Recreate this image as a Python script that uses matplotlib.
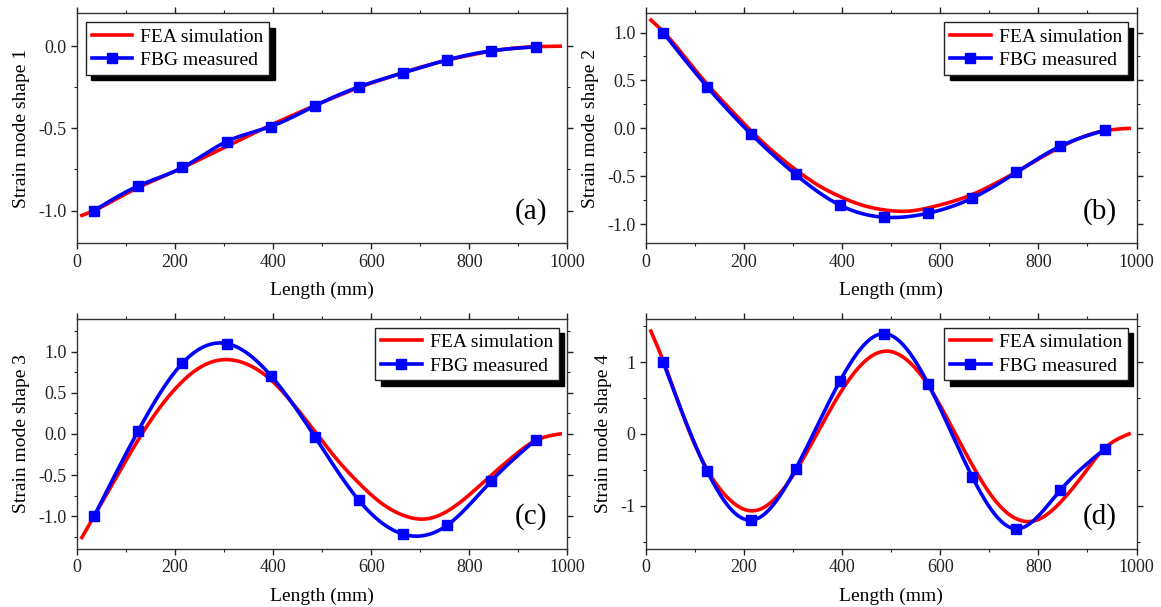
import numpy as np
import matplotlib
matplotlib.use("Agg")
import matplotlib.pyplot as plt
from matplotlib.ticker import MultipleLocator

plt.rcParams['font.family'] = ['Liberation Serif', 'DejaVu Serif']

# ---------------- data ----------------
fbg_x = [35, 125, 215, 305, 395, 485, 575, 665, 755, 845, 935]
fbg_1 = [-1.0, -0.85, -0.738, -0.58, -0.489, -0.363, -0.247, -0.162, -0.083, -0.028, -0.004]
fbg_2 = [1.0, 0.432, -0.063, -0.481, -0.80, -0.927, -0.885, -0.728, -0.46, -0.185, -0.02]
fbg_3 = [-1.0, 0.04, 0.862, 1.10, 0.711, -0.033, -0.81, -1.22, -1.11, -0.57, -0.073]
fbg_4 = [1.0, -0.52, -1.2, -0.488, 0.73, 1.395, 0.70, -0.595, -1.32, -0.78, -0.21]

fea_x = [10, 35, 80, 125, 170, 215, 260, 305, 350, 395, 440, 485, 530, 575,
         620, 665, 710, 755, 800, 845, 890, 935, 985]
fea_1 = [-1.03, -1.0, -0.93, -0.86, -0.80, -0.74, -0.675, -0.61, -0.545, -0.48,
         -0.42, -0.36, -0.305, -0.25, -0.205, -0.16, -0.12, -0.085, -0.055,
         -0.03, -0.012, -0.003, 0.0]
fea_2 = [1.13, 1.01, 0.74, 0.46, 0.21, -0.03, -0.245, -0.43, -0.59, -0.71,
         -0.80, -0.85, -0.865, -0.83, -0.77, -0.69, -0.58, -0.455, -0.32,
         -0.195, -0.09, -0.025, 0.0]
fea_3 = [-1.26, -1.0, -0.53, -0.07, 0.33, 0.64, 0.84, 0.905, 0.84, 0.66, 0.37,
         0.03, -0.31, -0.60, -0.84, -0.99, -1.035, -0.94, -0.74, -0.50, -0.27,
         -0.08, 0.0]
fea_4 = [1.43, 1.02, 0.18, -0.50, -0.91, -1.07, -0.92, -0.52, 0.02, 0.56, 0.97,
         1.15, 1.04, 0.68, 0.14, -0.43, -0.91, -1.18, -1.19, -0.95, -0.58,
         -0.20, 0.0]

ylabels = ["Strain mode shape 1", "Strain mode shape 2",
           "Strain mode shape 3", "Strain mode shape 4"]
panel_tags = ["(a)", "(b)", "(c)", "(d)"]
series_names = ["FEA simulation", "FBG measured"]
xlabel = "Length (mm)"


def spline(x, y, n=400):
    """Natural cubic spline used only to draw a smooth connecting line."""
    x = np.asarray(x, float)
    y = np.asarray(y, float)
    m = len(x)
    h = np.diff(x)
    A = np.zeros((m, m))
    r = np.zeros(m)
    A[0, 0] = A[-1, -1] = 1.0
    for i in range(1, m - 1):
        A[i, i - 1] = h[i - 1]
        A[i, i] = 2 * (h[i - 1] + h[i])
        A[i, i + 1] = h[i]
        r[i] = 6 * ((y[i + 1] - y[i]) / h[i] - (y[i] - y[i - 1]) / h[i - 1])
    M = np.linalg.solve(A, r)
    xs = np.linspace(x[0], x[-1], n)
    idx = np.clip(np.searchsorted(x, xs) - 1, 0, m - 2)
    x0, x1 = x[idx], x[idx + 1]
    hh = x1 - x0
    t0 = x1 - xs
    t1 = xs - x0
    ys = (M[idx] * t0 ** 3 + M[idx + 1] * t1 ** 3) / (6 * hh) \
        + (y[idx] / hh - M[idx] * hh / 6) * t0 \
        + (y[idx + 1] / hh - M[idx + 1] * hh / 6) * t1
    return xs, ys


fig = plt.figure(figsize=(11.61, 6.07), dpi=100)

W = 0.4225
H = 0.3790
positions = [
    [0.0663, 0.5990, W, H],
    [0.5564, 0.5990, W, H],
    [0.0663, 0.0956, W, H],
    [0.5564, 0.0956, W, H],
]
ylims = [(-1.2, 0.2), (-1.2, 1.2), (-1.4, 1.4), (-1.6, 1.6)]
ymajor = [0.5, 0.5, 0.5, 1.0]
yminor = [0.25, 0.25, 0.25, 0.5]
legend_locs = ["upper left", "upper right", "upper right", "upper right"]
fea_all = [fea_1, fea_2, fea_3, fea_4]
fbg_all = [fbg_1, fbg_2, fbg_3, fbg_4]

for k in range(4):
    ax = fig.add_axes(positions[k])
    xs, ys = spline(fea_x, fea_all[k])
    ax.plot(xs, ys, color='#ff0000', lw=2.6, label=series_names[0], zorder=2)
    xb, yb = spline(fbg_x, fbg_all[k])
    ax.plot(xb, yb, color='#0000ff', lw=2.6, zorder=3)
    ax.plot(fbg_x, fbg_all[k], ls='none', marker='s', ms=7, color='#0000ff',
            zorder=4)
    ax.plot([], [], color='#0000ff', lw=2.6, marker='s', ms=7,
            label=series_names[1])

    ax.set_xlim(0, 1000)
    ax.set_ylim(*ylims[k])
    ax.xaxis.set_major_locator(MultipleLocator(200))
    ax.xaxis.set_minor_locator(MultipleLocator(100))
    ax.yaxis.set_major_locator(MultipleLocator(ymajor[k]))
    ax.yaxis.set_minor_locator(MultipleLocator(yminor[k]))
    if k == 3:
        ax.yaxis.set_major_formatter(plt.FuncFormatter(lambda v, p: "%d" % round(v)))
    else:
        ax.yaxis.set_major_formatter(plt.FuncFormatter(lambda v, p: "%.1f" % v))

    ax.tick_params(which='both', direction='out', top=True, right=True,
                   labeltop=False, labelright=False, labelsize=13,
                   colors='#222222')
    ax.tick_params(which='major', length=4, width=1)
    ax.tick_params(which='minor', length=2.5, width=0.8)
    for s in ax.spines.values():
        s.set_color('#333333')
        s.set_linewidth(1.0)

    ax.set_xlabel(xlabel, fontsize=14, labelpad=8)
    ax.set_ylabel(ylabels[k], fontsize=14, labelpad=6)

    leg = ax.legend(loc=legend_locs[k], fontsize=14, frameon=True,
                    fancybox=False, edgecolor='#222222', framealpha=1,
                    shadow={'color': 'black', 'alpha': 1.0, 'ox': 4, 'oy': -4},
                    handlelength=2.1, handletextpad=0.4, borderpad=0.3,
                    labelspacing=0.3,
                    borderaxespad=0.45)
    leg.get_frame().set_linewidth(1.0)

    ax.text(0.925, 0.14, panel_tags[k], transform=ax.transAxes,
            fontsize=21, ha='center', va='center')

fig.savefig("out.png", dpi=100)
